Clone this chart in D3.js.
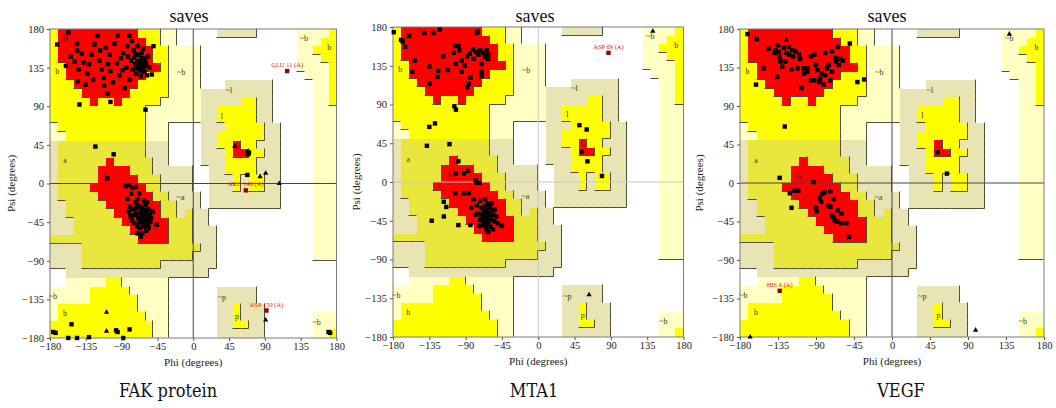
<!DOCTYPE html>
<html>
<head>
<meta charset="utf-8">
<script src="https://cdn.jsdelivr.net/npm/d3@7"></script>
<style>
  body { margin: 0; background: #fff; }
  svg { display: block; }
  text { font-family: "Liberation Serif", "Times New Roman", serif; }
  .caption { font-family: "DejaVu Serif Condensed", "DejaVu Serif", serif; }
</style>
</head>
<body>
<svg id="chart" width="1056" height="408"></svg>
<script>
const ticks = [-180, -135, -90, -45, 0, 45, 90, 135, 180]

// procheck region map, 10 degree cells
// rows run from psi 180 down to -180, columns from phi -180 to 180
// R core, Y allowed, O allowed (alpha), P generous (beta), B generous (alpha / l / p)
const regionRows = [
  'YRRRRRRRRRRYYYPP.....BBBBB.....PPPPY',
  'YRRRRRRRRRRRYYPP...............PPPYY',
  'YRRRRRRRRRRRRYYPPPP............PPYYY',
  'YRRRRRRRRRRRRYYPPPP............PPPYY',
  'YYRRRRRRRRRRRRYPPPP............PPPPY',
  'YYRRRRRRRRRRYYYPPPP.............PPPY',
  'YYYRRRRRRRRYYYYPPPP...BBBBBB.....PPY',
  'YYYYRRRRRRYYYYYPPPPBBBBBBBBB.....PPY',
  'YYYYYRYYRYYYYYPPPPPBBBBBYYBB.....PPY',
  'YYYYYYYYYYYYPPPPPPPBBYYYYYBB.....PPP',
  'YYYYYYYYYYYYPPPPPPPBBYYYYYBB.....PPP',
  'PYYYYYYYYYYYPPP....BBBYYYYYBB....PPP',
  'PPYYYYYYYYYYPPP....BBYYYYYYBB....PPP',
  'BOOOOOOOOOOOBBB....BBYYRYYBBB....PPP',
  'BOOOOOOOOOOOBBB....BBBYRRYYBB....PPP',
  'BOOOOOOROOOOOBB....BBBYYYYBBB....PPP',
  'BOOOOORRRROOOBBBBB..BBYYYYBBB....PPP',
  'BOOOOORRRRROOOBBBB..BBBYBYYBB....PPP',
  'BOOOORRRRRRROOBBBB..BBBYBYYBB....PPP',
  'BOOOOORRRRRRROOBBBB.BBBBBBBBB....PPP',
  'BBOOOOORRRRRRROOBBB.BBBBBBBBB....PPP',
  'BBOOOOOORRRRRROOBOBB.............PPP',
  'BBBOOOOOORRRRRROOOBB.............PPP',
  'BBBOOOOOOORRRRROOOBBB............PPP',
  'OOOOOOOOOOORRRROOOBBB............PPP',
  'BBBBOOOOOOOOOOOOOOOBB............PPP',
  'BBBBOOOOOOOOOOOOOOBBB............PPP',
  'BBBBOOOOOOOOOOBBBBBBB...............',
  '..BBBBBBBBBBBBBBBBBB................',
  '..PPPPPYYPPPPPP.....................',
  'PPPPPYYYYYPPPPP......BBBBB..........',
  'PPPPPYYYYYYPPPP......BBBBB..........',
  'PYYYYYYYYYYPPPP......BBYBBB.........',
  'PYYYYYYYYYYYPPP......BBYBBB......PPP',
  'YYYYYYYYYYYYYPP......BBYYBB......PPP',
  'YYYYYYYYYYYYYPP......BBBBBB......PPY',
]

const regionFill = { R: '#ff0000', Y: '#ffff00', O: '#e9e63c', P: '#ffffc4', B: '#e8e4b4' }
const regionLevel = { '.': 0, P: 1, B: 1, Y: 2, O: 2, R: 3 }

// [text, phi, psi]
const regionLabels = [
  ['B', -161, 170], ['b', -171, 131], ['a', -161, 27], ['A', -110, 8],
  ['~b', -15, 130], ['~a', -16, -16], ['~l', 45, 109], ['l', 36, 79],
  ['L', 55, 45], ['~p', 36, -132], ['p', 55, -154], ['~b', -176, -131],
  ['b', -161, -151], ['~b', 139, 169], ['b', 171, 159], ['~b', 155, -161],
]

// FAK protein
const fakResidues = [
  [-171, 162], [-157, 176], [-146, 163], [-146, 155], [-140, 151], [-138, 141], [-144, 133],
  [-145, 119], [-135, 115], [-133, 128], [-131, 139], [-128, 150], [-124, 162], [-120, 172],
  [-118, 143], [-115, 133], [-113, 123], [-112, 114], [-108, 105], [-105, 150], [-104, 131],
  [-101, 118], [-99, 163], [-96, 140], [-93, 126], [-91, 146], [-88, 152], [-86, 111],
  [-84, 135], [-83, 160], [-80, 172], [-80, 121], [-78, 143], [-76, 133], [-75, 155],
  [-74, 147], [-73, 139], [-72, 128], [-70, 160], [-69, 150], [-68, 136], [-67, 143],
  [-66, 131], [-65, 152], [-64, 140], [-63, 135], [-62, 146], [-61, 130], [-60, 142],
  [-59, 137], [-70, 134], [-72, 151], [-66, 125], [-63, 157], [-57, 148], [-55, 135],
  [-52, 127], [-50, 160], [-58, 126], [-77, 166], [-95, 172], [-110, 158], [-126, 121],
  [-149, 142], [-154, 148], [-160, 137], [-107, 139], [-117, 155], [-89, 132], [-82, 148],
  [-70, 142], [-68, 140], [-65, 146], [-62, 138],
  [-143, 92], [-104, 95], [-60, 86], [-123, 43], [-100, 34],
  [-108, 6], [-85, -3], [-80, -2], [-76, -5], [-72, -4], [-78, -12], [-83, -18], [-80, -27],
  [-76, -30], [-73, -22], [-70, -18], [-68, -12], [-72, -35], [-69, -40], [-66, -45],
  [-64, -28], [-62, -33], [-60, -38], [-58, -42], [-56, -30], [-55, -36], [-54, -45],
  [-60, -25], [-63, -48], [-67, -52], [-70, -50], [-74, -46], [-77, -43], [-79, -38],
  [-62, -20], [-58, -22], [-65, -37], [-61, -42], [-57, -48], [-53, -40], [-51, -33],
  [-59, -55], [-64, -58], [-70, -58], [-66, -41], [-63, -44], [-60, -31], [-67, -34],
  [-64, -40], [-61, -36], [-58, -35], [-68, -27], [-72, -29], [-75, -37], [-62, -50],
  [-56, -52], [-46, -48], [-81, -33], [-66, -62], [-70, -25], [-65, -30], [-60, -45],
  [-63, -39], [-68, -45], [-55, -40],
  [68, 37], [69, 34], [70, 36], [68, 10],
  [-176, -173], [-173, -174], [-153, -164], [-157, -180], [-146, -180], [-131, -179],
  [-97, -171], [-95, -173], [-80, -170], [-88, -180], [170, -173], [172, -174],
]
const fakGly = [[52, 43], [84, 8], [91, 12], [108, 0], [-109, -150], [-109, -172], [91, -159]]
const fakOutliers = [['GLU 11 (A)', 118, 131], ['ARG 140 (A)', 66, -8], ['ASP 159 (A)', 92, -148]]

// MTA1
const mtaResidues = [
  [-179, 174], [-170, 165], [-168, 163], [-165, 157], [-160, 170], [-153, 141], [-156, 128],
  [-141, 173], [-130, 173], [-122, 177], [-135, 134], [-124, 129], [-125, 122], [-135, 114],
  [-103, 158], [-99, 158], [-98, 153], [-105, 150], [-91, 135], [-102, 137], [-88, 146],
  [-85, 149], [-81, 154], [-76, 173], [-77, 151], [-74, 148], [-72, 153], [-68, 150],
  [-64, 153], [-66, 145], [-70, 137], [-70, 128], [-70, 123], [-84, 121], [-86, 114],
  [-88, 110], [-75, 175], [-95, 141], [-80, 143], [-62, 148], [-118, 146], [-112, 130],
  [-95, 128], [-62, 143],
  [-104, 88], [-102, 84], [-135, 64], [-128, 68], [-138, 42], [-110, 44],
  [-99, 24], [-102, 10], [-92, 10], [-87, 13], [-76, -1], [-73, -1], [-78, 2], [-103, -13],
  [-92, -13], [-86, -13], [-117, -23], [-114, -29], [-117, -40], [-132, -45], [-99, -50],
  [-84, -50], [-80, -20], [-76, -27], [-72, -22], [-70, -30], [-68, -35], [-66, -40],
  [-64, -32], [-62, -36], [-60, -40], [-58, -44], [-56, -38], [-54, -46], [-62, -48],
  [-65, -52], [-68, -45], [-71, -40], [-74, -36], [-66, -28], [-60, -30], [-57, -33],
  [-52, -40], [-50, -48], [-63, -42], [-67, -37], [-61, -45], [-59, -52], [-70, -50],
  [-64, -56], [-56, -55], [-45, -51], [-72, -44], [-78, -38], [-83, -30], [-66, -20],
  [-63, -25], [-58, -25], [-62, -58], [-54, -32], [-69, -42], [-65, -44], [-61, -39],
  [-67, -48], [-73, -51],
  [51, 66], [60, 61], [54, 35], [61, 24], [79, 7],
]
const mtaGly = [[63, -131], [142, 175]]
const mtaOutliers = [['ASP 69 (A)', 87, 150]]

// VEGF
const vegfResidues = [
  [-171, 174], [-160, 168], [-161, 115], [-152, 134], [-146, 157], [-139, 152], [-138, 155],
  [-135, 161], [-134, 153], [-133, 147], [-132, 142], [-136, 124], [-130, 136], [-128, 158],
  [-125, 152], [-122, 159], [-122, 150], [-118, 155], [-117, 148], [-114, 154], [-110, 150],
  [-109, 145], [-107, 111], [-100, 134], [-100, 130], [-105, 134], [-104, 128], [-96, 148],
  [-92, 150], [-90, 138], [-88, 132], [-96, 120], [-92, 120], [-86, 118], [-85, 122],
  [-83, 128], [-81, 115], [-79, 152], [-73, 120], [-71, 130], [-75, 138], [-71, 154],
  [-67, 146], [-66, 142], [-64, 159], [-63, 138], [-61, 145], [-58, 143], [-50, 163],
  [-41, 118], [-33, 121], [-119, 133], [-126, 142], [-112, 134], [-79, 126], [-77, 134],
  [-127, 66],
  [-133, 6], [-121, -12], [-116, -9], [-111, -9], [-119, -29], [-93, 1], [-86, -18],
  [-83, -13], [-80, -11], [-73, -10], [-69, -19], [-90, -29], [-89, -33], [-75, -27],
  [-73, -28], [-64, -32], [-60, -36], [-69, -40], [-68, -44], [-65, -45], [-60, -47],
  [-54, -47], [-71, -38], [-51, -63], [-84, -22],
  [54, 36], [65, 11],
]
const vegfGly = [[-168, -180], [99, -172], [139, 174], [-125, 167]]
const vegfOutliers = [['HIS 6 (A)', -133, -126]]

const panels = [
  { caption: 'FAK protein', residues: fakResidues, gly: fakGly, outliers: fakOutliers,
    left: 50, right: 336.5, top: 29, bottom: 338, zeroColor: '#444',
    titleX: 189, captionX: 168, psiX: 15 },
  { caption: 'MTA1', residues: mtaResidues, gly: mtaGly, outliers: mtaOutliers,
    left: 393, right: 683.5, top: 27, bottom: 337, zeroColor: '#c8c8c8',
    titleX: 535, captionX: 534, psiX: 360 },
  { caption: 'VEGF', residues: vegfResidues, gly: vegfGly, outliers: vegfOutliers,
    left: 740, right: 1044, top: 29, bottom: 337, zeroColor: '#444',
    titleX: 887, captionX: 901, psiX: 703 },
]

const svg = d3.select('#chart')

const cells = []
regionRows.forEach((row, j) => {
  row.split('').forEach((c, i) => cells.push({ i, j, c }))
})

function levelAt(i, j) {
  if (i < 0 || i > 35 || j < 0 || j > 35) return -1
  return regionLevel[regionRows[j][i]]
}

function styleAxis(a) {
  a.attr('font-family', '"Liberation Serif", serif').attr('font-size', 10.5)
  a.select('.domain').remove()
  a.selectAll('line').attr('stroke', '#555')
  a.selectAll('text').attr('fill', '#222')
}

function drawPanel(p) {
  const x = d3.scaleLinear().domain([-180, 180]).range([p.left, p.right])
  const y = d3.scaleLinear().domain([-180, 180]).range([p.bottom, p.top])
  const cx = i => Math.round(x(-180 + 10 * i))
  const cy = j => Math.round(y(180 - 10 * j))

  const g = svg.append('g')

  g.selectAll('rect.cell')
    .data(cells.filter(d => d.c !== '.'))
    .join('rect')
    .attr('class', 'cell')
    .attr('x', d => cx(d.i))
    .attr('y', d => cy(d.j))
    .attr('width', d => cx(d.i + 1) - cx(d.i))
    .attr('height', d => cy(d.j + 1) - cy(d.j))
    .attr('fill', d => regionFill[d.c])
    .attr('shape-rendering', 'crispEdges')

  // dark edge on the right and lower side of each raised region
  const edges = []
  cells.forEach(d => {
    const l = regionLevel[d.c]
    if (l === 0) return
    if (d.i < 35 && levelAt(d.i + 1, d.j) < l) {
      edges.push([cx(d.i + 1), cy(d.j), cx(d.i + 1), cy(d.j + 1)])
    }
    if (d.j < 35 && levelAt(d.i, d.j + 1) < l) {
      edges.push([cx(d.i), cy(d.j + 1), cx(d.i + 1), cy(d.j + 1)])
    }
  })
  g.selectAll('line.edge')
    .data(edges)
    .join('line')
    .attr('x1', d => d[0] - 0.5).attr('y1', d => d[1] - 0.5)
    .attr('x2', d => d[2] - 0.5).attr('y2', d => d[3] - 0.5)
    .attr('stroke', '#4d4d3a')
    .attr('stroke-width', 1)

  g.append('line')
    .attr('x1', x(0)).attr('x2', x(0))
    .attr('y1', p.top).attr('y2', p.bottom)
    .attr('stroke', p.zeroColor)
  g.append('line')
    .attr('x1', p.left).attr('x2', p.right)
    .attr('y1', y(0)).attr('y2', y(0))
    .attr('stroke', p.zeroColor)

  g.append('rect')
    .attr('x', p.left).attr('y', p.top)
    .attr('width', p.right - p.left).attr('height', p.bottom - p.top)
    .attr('fill', 'none')
    .attr('stroke', '#7a7a7a')

  g.selectAll('text.region')
    .data(regionLabels)
    .join('text')
    .attr('x', d => x(d[1]))
    .attr('y', d => y(d[2]) + 3)
    .attr('text-anchor', 'middle')
    .style('font-size', '8px')
    .attr('fill', d => (d[0] === 'B' || d[0] === 'A' || d[0] === 'L') ? '#5a1010' : '#3c3c28')
    .text(d => d[0])

  g.selectAll('rect.res')
    .data(p.residues)
    .join('rect')
    .attr('x', d => x(d[0]) - 2.2)
    .attr('y', d => y(d[1]) - 2.2)
    .attr('width', 4.4)
    .attr('height', 4.4)
    .attr('fill', '#000')

  g.selectAll('path.gly')
    .data(p.gly)
    .join('path')
    .attr('transform', d => `translate(${x(d[0])},${y(d[1])})`)
    .attr('d', d3.symbol(d3.symbolTriangle, 12))
    .attr('fill', '#000')

  g.selectAll('rect.out')
    .data(p.outliers)
    .join('rect')
    .attr('x', d => x(d[1]) - 2.2)
    .attr('y', d => y(d[2]) - 2.2)
    .attr('width', 4.4)
    .attr('height', 4.4)
    .attr('fill', '#8a0a0a')
  g.selectAll('text.out')
    .data(p.outliers)
    .join('text')
    .attr('x', d => x(d[1]))
    .attr('y', d => y(d[2]) - 4)
    .attr('text-anchor', 'middle')
    .style('font-size', '6.5px')
    .attr('fill', '#e01818')
    .text(d => d[0])

  g.append('g')
    .attr('transform', `translate(0,${p.bottom})`)
    .call(d3.axisBottom(x).tickValues(ticks).tickSize(3).tickPadding(2).tickFormat(d3.format('d')))
    .call(styleAxis)

  g.append('g')
    .attr('transform', `translate(${p.left},0)`)
    .call(d3.axisLeft(y).tickValues(ticks).tickSize(3).tickPadding(3).tickFormat(d3.format('d')))
    .call(styleAxis)

  g.append('text')
    .attr('x', (p.left + p.right) / 2)
    .attr('y', p.bottom + 28)
    .attr('text-anchor', 'middle')
    .style('font-size', '11px')
    .attr('fill', '#222')
    .text('Phi (degrees)')

  g.append('text')
    .attr('transform', `translate(${p.psiX},${(p.top + p.bottom) / 2}) rotate(-90)`)
    .attr('text-anchor', 'middle')
    .style('font-size', '11px')
    .attr('fill', '#222')
    .text('Psi (degrees)')

  g.append('text')
    .attr('x', p.titleX)
    .attr('y', 22)
    .attr('text-anchor', 'middle')
    .style('font-size', '18px')
    .attr('fill', '#111')
    .text('saves')

  g.append('text')
    .attr('class', 'caption')
    .attr('x', p.captionX)
    .attr('y', 397)
    .attr('text-anchor', 'middle')
    .style('font-size', '18px')
    .attr('fill', '#111')
    .text(p.caption)
}

panels.forEach(drawPanel)
</script>
</body>
</html>
